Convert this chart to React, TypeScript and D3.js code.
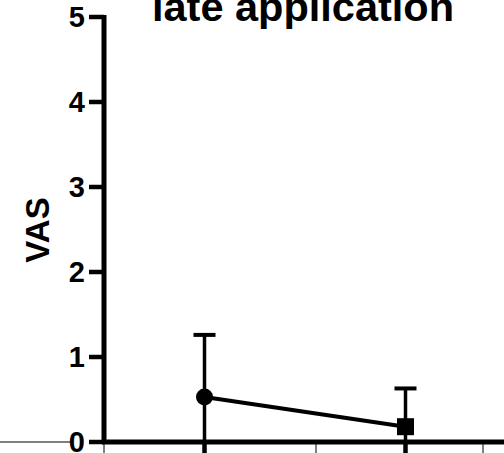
import React from "react";
import * as d3 from "d3";

const categories = ["early", "late"];
const means = [0.53, 0.18];
const sds = [0.73, 0.45];
const markers = ["circle", "square"];
const yTicks = [0, 1, 2, 3, 4, 5];
const title = "late application";
const yLabel = "VAS";

export default function App() {
  const W = 504, H = 453;
  const y = d3.scaleLinear().domain([0, 5]).range([442, 17]);
  const x = d3.scalePoint<string>().domain(categories).range([104, 506]).padding(0.5);
  const axisX = 104;
  const font = "Liberation Sans, Arial, Helvetica, sans-serif";
  const line = d3.line<number>().x((_, i) => x(categories[i])!).y(d => y(d));
  const y0 = y(0);

  return (
    <svg width={W} height={H} style={{ position: "absolute", left: 0, top: 0, background: "#fff" }}>
      <rect width={W} height={H} fill="#fff" />
      {/* title */}
      <text x={303} y={21} textAnchor="middle" fontFamily={font} fontWeight="bold" fontSize={41.5}>{title}</text>
      {/* y label */}
      <text transform={`translate(49,230) rotate(-90)`} textAnchor="middle" fontFamily={font} fontWeight="bold" fontSize={33}>{yLabel}</text>
      {/* thin left line */}
      <line x1={0} x2={72} y1={y0} y2={y0} stroke="#000" strokeWidth={1} />
      {/* thin lines below axis */}
      {[axisX, 316, 483].map((px, i) => (
        <line key={i} x1={px} x2={px} y1={y0} y2={H} stroke="#000" strokeWidth={1} />
      ))}
      {/* y axis */}
      <line x1={axisX} x2={axisX} y1={y(5) - 2} y2={y0 + 2} stroke="#000" strokeWidth={5} />
      {yTicks.map(t => (
        <g key={t}>
          <line x1={89} x2={axisX} y1={y(t)} y2={y(t)} stroke="#000" strokeWidth={4.5} />
          <text x={85} y={y(t) + 10} textAnchor="end" fontFamily={font} fontWeight="bold" fontSize={29}>{t}</text>
        </g>
      ))}
      {/* x axis */}
      <line x1={axisX - 2} x2={W} y1={y0} y2={y0} stroke="#000" strokeWidth={5} />
      {categories.map(c => (
        <g key={c}>
          <line x1={x(c)!} x2={x(c)!} y1={y0} y2={y0 + 15} stroke="#000" strokeWidth={4.5} />
          <text x={x(c)!} y={y0 + 40} textAnchor="middle" fontFamily={font} fontWeight="bold" fontSize={29}>{c}</text>
        </g>
      ))}
      {/* error bars */}
      {categories.map((c, i) => {
        const cx = x(c)!;
        const top = y(means[i] + sds[i]);
        const bot = y(Math.max(0, means[i] - sds[i]));
        return (
          <g key={"e" + c}>
            <line x1={cx} x2={cx} y1={top} y2={bot} stroke="#000" strokeWidth={3.5} />
            <line x1={cx - 11} x2={cx + 11} y1={top} y2={top} stroke="#000" strokeWidth={4} />
          </g>
        );
      })}
      {/* data line */}
      <path d={line(means)!} fill="none" stroke="#000" strokeWidth={4} />
      {categories.map((c, i) => {
        const cx = x(c)!;
        const cy = y(means[i]);
        return markers[i] === "circle" ? (
          <circle key={"m" + c} cx={cx} cy={cy} r={8.5} fill="#000" />
        ) : (
          <rect key={"m" + c} x={cx - 8.5} y={cy - 8.5} width={17} height={17} fill="#000" />
        );
      })}
    </svg>
  );
}
